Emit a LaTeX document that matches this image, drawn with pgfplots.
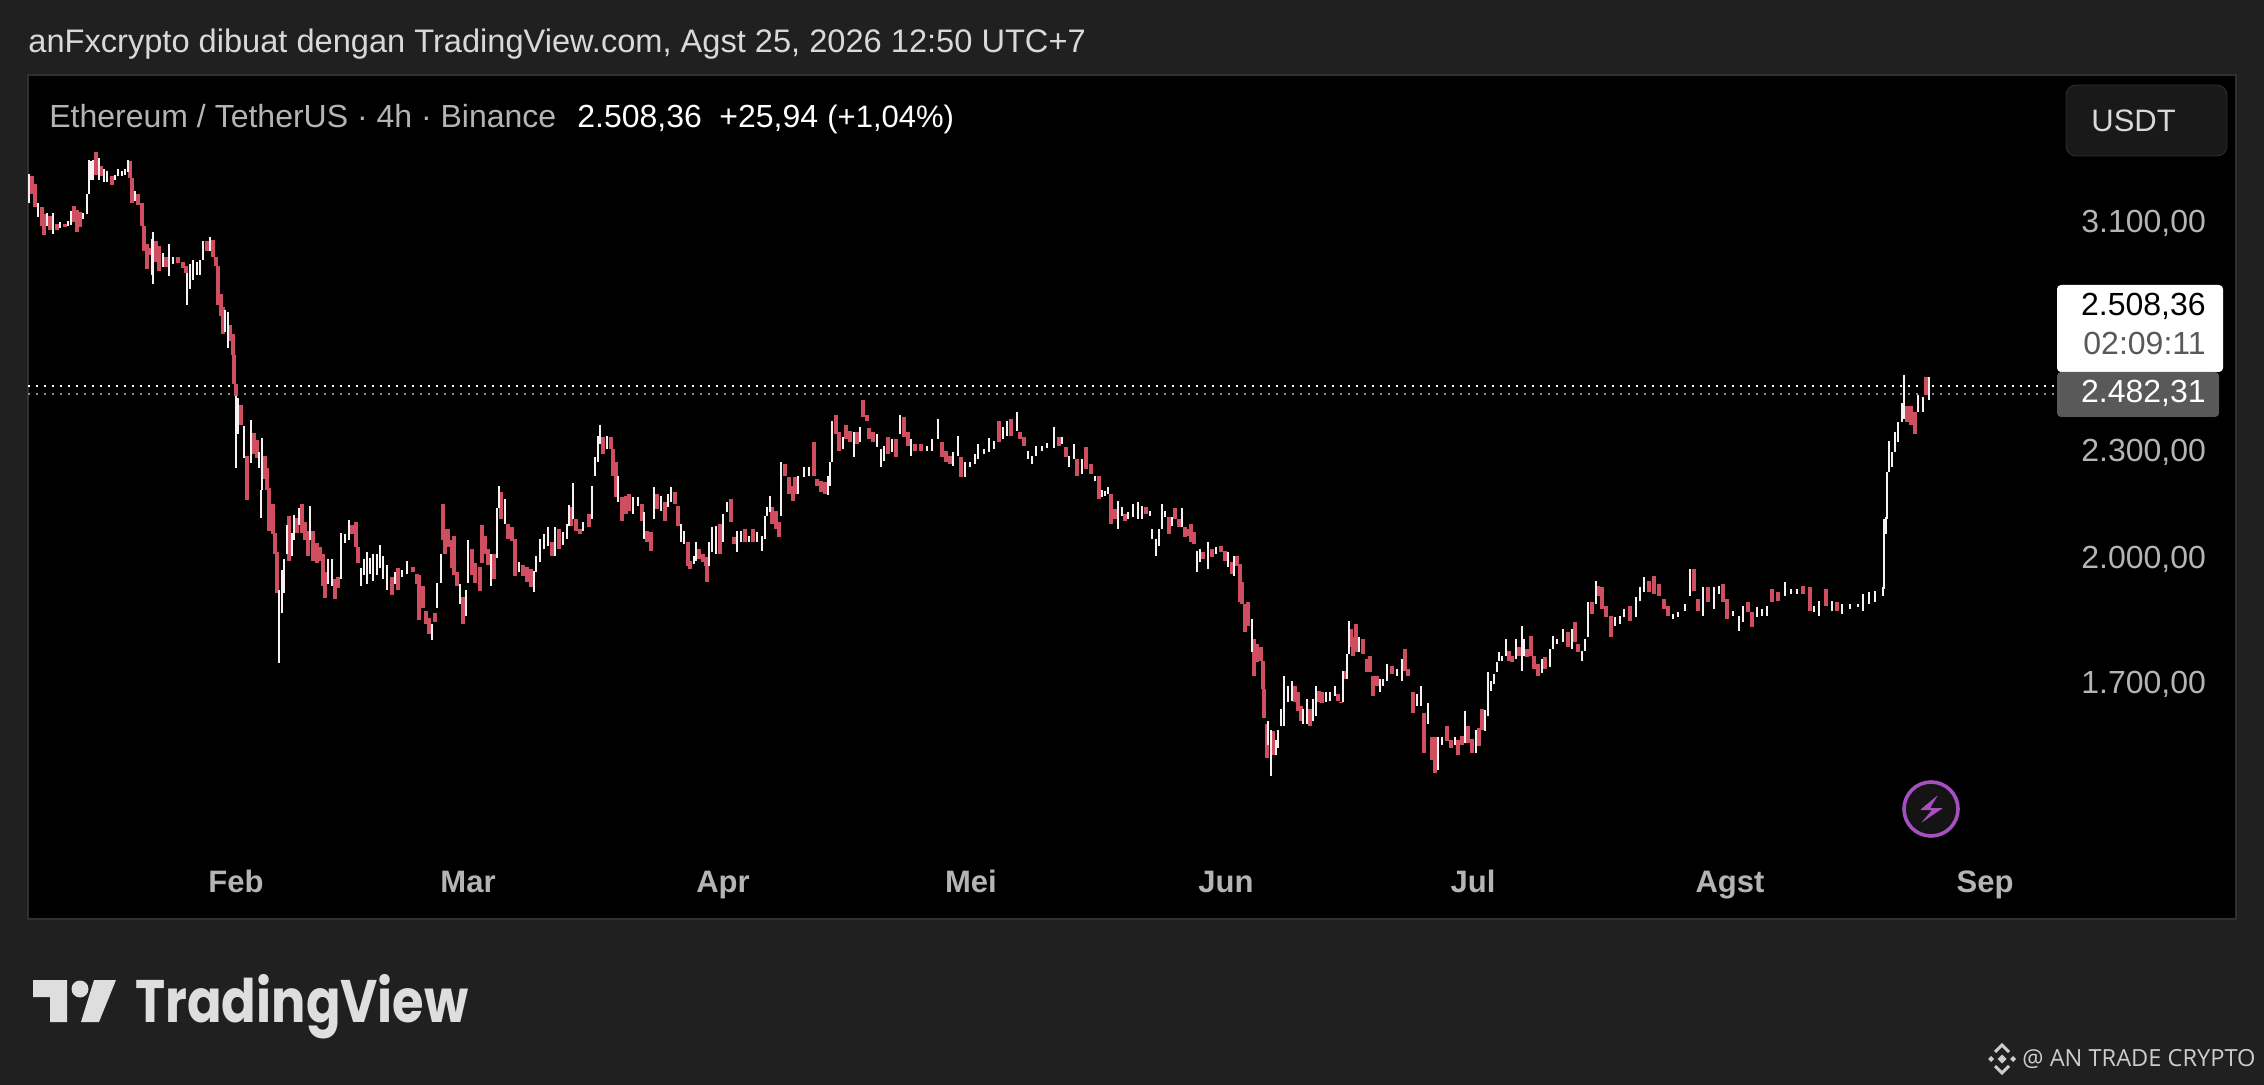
\documentclass[border=0pt]{standalone}
\usepackage{pgfplots}
\usepackage{pgfplotstable}
\usepackage{fontspec}
\pgfplotsset{compat=1.18}
\setmainfont{Liberation Sans}
\newfontfamily\logofont{Poppins}
\newfontfamily\markfont{Open Sans}
\definecolor{bg}{HTML}{202020}
\definecolor{edge}{HTML}{303030}
\definecolor{lab}{HTML}{B4B4B4}
\definecolor{cdlW}{HTML}{F6F0F1}
\definecolor{cdlR}{HTML}{CF4F60}
\definecolor{purp}{HTML}{A54FC0}
\pgfplotstableread{
x lo hi
29 3175 3298
38 3117 3175
47 3081 3134
53 3049 3134
60 3073 3097
68 3081 3101
71 3085 3142
83 3109 3134
87 3130 3212
89 3212 3358
91 3272 3354
93 3272 3358
99 3272 3367
104 3264 3319
107 3264 3311
115 3272 3294
118 3289 3319
122 3289 3311
125 3294 3319
128 3306 3358
135 3184 3225
152 2892 3030
153 2858 3057
163 2921 2975
169 2888 3010
173 2933 2960
187 2781 2899
190 2840 2933
193 2873 2948
197 2892 2940
200 2892 2948
203 2948 3022
210 2983 3038
225 2685 2763
228 2630 2756
236 2248 2471
238 2349 2464
244 2277 2376
251 2262 2392
259 2248 2295
262 2184 2337
261 2107 2184
279 1745 1918
282 1862 1969
284 1911 1997
287 2010 2088
292 2005 2066
294 2047 2115
299 2088 2134
310 2047 2139
328 1933 1997
332 1928 1997
341 1946 2066
345 2040 2063
349 2047 2101
361 1928 1974
364 1956 1997
367 1933 2015
370 1959 2000
373 1941 2010
377 1956 2010
380 1974 2034
383 1946 2005
387 1918 1982
395 1933 1964
402 1951 1969
407 1959 1992
432 1798 1836
437 1874 1936
441 1936 2010
460 1884 1933
466 1855 1918
468 1936 2047
491 1928 2010
497 2000 2134
499 2134 2195
505 2090 2159
519 1964 1989
534 1913 1966
536 1964 2005
540 1989 2050
544 2024 2063
548 2032 2082
555 2005 2082
563 2034 2069
567 2050 2090
569 2085 2142
573 2104 2204
583 2072 2096
592 2104 2195
595 2225 2280
598 2265 2343
600 2319 2379
607 2304 2343
618 2151 2225
633 2118 2165
638 2139 2165
644 2050 2123
654 2104 2193
661 2126 2167
668 2137 2173
671 2151 2193
681 2042 2090
684 2037 2072
694 1984 2005
696 1992 2042
709 1979 2042
712 2016 2082
716 2010 2085
723 2042 2118
727 2123 2151
737 2016 2072
741 2042 2072
749 2042 2058
757 2042 2069
762 2018 2058
765 2050 2112
767 2112 2137
770 2123 2167
781 2112 2265
798 2173 2225
804 2222 2251
809 2225 2251
828 2170 2225
830 2196 2265
832 2265 2389
843 2304 2340
854 2280 2355
860 2325 2373
877 2310 2349
881 2251 2304
884 2268 2313
892 2295 2334
900 2349 2410
911 2283 2334
927 2298 2313
932 2298 2334
938 2334 2398
953 2254 2295
958 2283 2343
965 2222 2265
970 2251 2265
975 2260 2289
978 2274 2319
984 2289 2304
989 2295 2337
994 2304 2328
1003 2334 2373
1007 2343 2389
1017 2358 2417
1028 2274 2298
1032 2260 2283
1036 2283 2313
1042 2298 2313
1047 2307 2322
1054 2307 2373
1062 2319 2340
1069 2251 2283
1074 2274 2319
1082 2231 2274
1095 2210 2225
1102 2165 2184
1105 2167 2181
1108 2173 2193
1118 2077 2153
1122 2112 2137
1128 2104 2123
1133 2110 2145
1138 2104 2151
1142 2104 2139
1150 2112 2126
1152 2050 2077
1156 2005 2050
1159 2032 2077
1162 2077 2145
1165 2110 2126
1172 2085 2110
1182 2082 2134
1197 1964 2018
1200 1989 2024
1208 1971 2042
1216 2010 2029
1228 1977 2016
1234 1954 2005
1252 1770 1848
1268 1567 1617
1271 1505 1598
1276 1547 1577
1278 1561 1598
1281 1606 1644
1284 1606 1716
1288 1659 1694
1292 1661 1705
1303 1612 1644
1307 1612 1665
1313 1617 1665
1316 1629 1692
1326 1659 1680
1330 1661 1680
1335 1672 1692
1343 1659 1727
1347 1709 1765
1349 1765 1843
1359 1770 1805
1380 1680 1709
1383 1694 1709
1387 1705 1743
1397 1716 1732
1402 1703 1754
1417 1650 1676
1421 1650 1692
1428 1612 1655
1438 1517 1585
1442 1567 1585
1455 1567 1585
1465 1571 1638
1476 1551 1598
1485 1596 1640
1488 1629 1725
1491 1683 1703
1494 1698 1720
1497 1725 1747
1499 1749 1770
1502 1749 1760
1506 1760 1800
1516 1754 1800
1522 1727 1831
1524 1760 1800
1542 1721 1754
1550 1736 1777
1553 1777 1807
1557 1788 1800
1563 1793 1824
1572 1777 1824
1582 1749 1772
1585 1772 1800
1588 1805 1889
1596 1884 1941
1615 1831 1853
1620 1836 1855
1624 1853 1872
1636 1853 1901
1640 1891 1926
1644 1913 1951
1673 1848 1860
1678 1853 1865
1685 1867 1884
1690 1903 1971
1703 1855 1926
1714 1872 1926
1719 1908 1928
1733 1855 1867
1739 1819 1855
1743 1841 1879
1757 1853 1877
1762 1855 1872
1767 1855 1879
1785 1903 1939
1791 1908 1921
1797 1908 1921
1814 1865 1879
1819 1855 1891
1832 1867 1891
1842 1860 1884
1850 1872 1884
1858 1877 1884
1863 1867 1908
1869 1884 1913
1875 1889 1916
1883 1903 1926
1884 1921 2104
1886 2063 2110
1887 2104 2236
1889 2236 2328
1892 2251 2295
1895 2295 2355
1898 2325 2386
1902 2386 2448
1904 2395 2539
1918 2420 2474
1923 2420 2467
1929 2458 2530
}\whitecandles
\pgfplotstableread{
x lo hi
32 3212 3289
35 3159 3255
42 3081 3159
44 3045 3130
50 3065 3121
57 3065 3089
65 3077 3089
74 3097 3163
77 3057 3146
80 3077 3138
96 3294 3393
101 3289 3332
112 3251 3289
130 3281 3354
132 3175 3281
138 3167 3212
142 3081 3175
144 2983 3081
147 2914 3010
149 2968 2995
156 2940 3022
159 2906 3002
166 2921 2960
178 2937 2960
183 2918 2940
186 2899 2925
207 2983 3022
213 2960 3026
216 2925 2960
218 2781 2925
221 2741 2821
223 2678 2774
230 2654 2709
233 2606 2678
234 2507 2606
236 2471 2507
241 2377 2442
247 2156 2283
254 2289 2352
257 2277 2331
265 2216 2283
267 2184 2248
269 2072 2190
273 2063 2145
275 2010 2066
277 1911 2015
289 1992 2112
297 2066 2107
302 2066 2145
305 2047 2096
308 2005 2072
313 1992 2072
317 1987 2040
320 1992 2029
323 1928 2010
325 1898 1964
335 1896 1946
338 1923 1951
352 2063 2088
356 2029 2096
358 1987 2029
392 1906 1951
398 1918 1974
413 1964 1977
417 1933 1959
419 1846 1956
423 1874 1928
426 1836 1867
429 1812 1850
435 1841 1862
443 2047 2145
445 2010 2077
448 2029 2077
452 1974 2047
454 1956 2058
457 1928 1964
463 1834 1901
472 1956 2024
475 1936 1987
480 1916 1977
482 1987 2088
485 2010 2058
488 1982 2024
494 1946 2010
501 2104 2178
508 2050 2090
512 2045 2082
515 1954 2050
523 1954 1982
527 1939 1977
531 1926 1971
552 2005 2042
559 2024 2077
571 2085 2137
576 2072 2104
580 2063 2077
589 2082 2118
603 2289 2340
611 2304 2340
613 2225 2304
616 2165 2265
622 2099 2165
626 2118 2167
629 2126 2173
642 2099 2145
647 2042 2072
651 2018 2069
657 2131 2173
665 2099 2151
675 2145 2178
678 2085 2139
688 1979 2042
690 1971 1992
699 1997 2024
703 1989 2010
706 1979 2003
707 1939 1984
720 2010 2090
731 2096 2159
734 2037 2055
745 2042 2077
753 2042 2077
772 2090 2137
776 2077 2126
779 2055 2096
785 2225 2260
789 2173 2222
793 2153 2196
795 2173 2222
814 2225 2325
817 2196 2216
821 2178 2210
825 2173 2207
836 2349 2410
839 2298 2355
846 2334 2379
850 2325 2358
857 2319 2355
863 2404 2458
867 2389 2410
869 2334 2370
873 2325 2355
888 2289 2340
896 2280 2334
904 2340 2404
908 2313 2355
915 2298 2319
921 2298 2319
942 2280 2325
946 2265 2298
950 2260 2283
961 2222 2280
999 2325 2389
1011 2343 2395
1020 2334 2355
1024 2313 2340
1059 2313 2340
1066 2280 2310
1077 2225 2274
1086 2245 2310
1091 2231 2260
1099 2159 2225
1111 2090 2173
1115 2104 2131
1125 2099 2118
1146 2118 2137
1169 2063 2110
1175 2104 2134
1179 2082 2104
1185 2055 2082
1188 2058 2077
1191 2042 2090
1194 2037 2069
1203 1997 2016
1212 2003 2024
1221 2016 2032
1225 1992 2018
1232 1959 1989
1237 1979 2005
1240 1889 1984
1242 1884 1939
1245 1817 1884
1248 1831 1889
1254 1716 1800
1257 1747 1788
1261 1749 1781
1263 1687 1749
1264 1623 1687
1267 1541 1612
1273 1547 1596
1295 1659 1694
1298 1638 1680
1301 1617 1650
1310 1606 1644
1319 1659 1683
1322 1655 1680
1338 1661 1676
1341 1655 1659
1345 1709 1727
1351 1781 1824
1353 1760 1805
1356 1770 1836
1363 1765 1800
1367 1725 1754
1370 1725 1760
1373 1672 1716
1377 1692 1716
1392 1720 1738
1405 1727 1777
1408 1716 1732
1413 1634 1680
1424 1551 1634
1432 1537 1585
1435 1511 1585
1447 1575 1606
1451 1561 1577
1458 1547 1577
1462 1567 1587
1468 1571 1608
1472 1551 1581
1479 1565 1602
1482 1598 1644
1509 1749 1772
1512 1747 1760
1519 1760 1781
1527 1758 1777
1531 1760 1807
1534 1732 1760
1538 1714 1743
1545 1732 1758
1568 1781 1817
1575 1793 1841
1578 1770 1788
1592 1860 1889
1598 1903 1928
1602 1872 1926
1606 1853 1879
1611 1805 1855
1630 1843 1879
1649 1913 1941
1654 1908 1954
1659 1903 1933
1664 1872 1896
1668 1855 1879
1694 1916 1971
1698 1867 1896
1708 1889 1926
1723 1889 1933
1727 1848 1896
1748 1865 1889
1752 1829 1865
1772 1889 1921
1778 1891 1913
1803 1908 1928
1810 1867 1926
1826 1879 1921
1837 1867 1889
1907 2386 2436
1911 2379 2436
1915 2349 2420
1926 2474 2530
}\redcandles
\newcommand{\T}[6]{\node[anchor=#1,inner sep=0pt,text=#5,font=\fontsize{#4}{#4}\selectfont] at (#2,#3) {#6};}
\begin{document}
\begin{tikzpicture}
\begin{scope}[x=0.5pt,y=-0.5pt]
\path[use as bounding box,fill=bg] (0,0) rectangle (2264,1085);
\fill[black] (28,75) rectangle (2236,919);
\draw[edge,line width=1pt] (28,75) rectangle (2236,919);
\end{scope}
\begin{axis}[
  at={(14pt,-459.5pt)},anchor=south west,
  scale only axis,width=1104pt,height=422pt,
  xmin=28,xmax=2236,ymin=1250,ymax=3751,
  ymode=log,
  axis line style={draw=none},
  major tick length=0pt,minor tick length=0pt,
  xtick={236,468,723,971,1226,1473,1730,1985},
  xticklabels={Feb,Mar,Apr,Mei,Jun,Jul,Agst,Sep},
  ytick={1700,2000,2300,3100},
  yticklabels={{1.700,00},{2.000,00},{2.300,00},{3.100,00}},
  minor ytick={},
  ytick pos=right,yticklabel pos=right,
  xticklabel style={anchor=base,yshift=13pt,text=lab,font=\bfseries\fontsize{15.5}{16}\selectfont},
  yticklabel style={anchor=east,xshift=-11.5pt,yshift=-0.8pt,text=lab,font=\fontsize{16}{16}\selectfont},
  clip=true,
]
\addplot[white,line width=1.2pt,dash pattern=on 1.2pt off 2.8pt,yshift=-1pt,forget plot] coordinates {(28,2508.36) (2055,2508.36)};
\addplot[white!55!black,line width=1pt,dash pattern=on 1pt off 3pt,yshift=-1pt,forget plot] coordinates {(28,2482.31) (2055,2482.31)};
\addplot[draw=none,mark=none,forget plot,error bars/.cd,y dir=minus,y explicit,error mark=none,
  error bar style={cdlR,line width=1.6pt}]
  table[x=x,y=hi,y error expr=\thisrow{hi}-\thisrow{lo}] {\redcandles};
\addplot[draw=none,mark=none,forget plot,error bars/.cd,y dir=minus,y explicit,error mark=none,
  error bar style={cdlW,line width=1.3pt}]
  table[x=x,y=hi,y error expr=\thisrow{hi}-\thisrow{lo}] {\whitecandles};
\end{axis}
\begin{scope}[x=0.5pt,y=-0.5pt]
\T{base west}{28}{53}{16.3}{white!85!black}{anFxcrypto dibuat dengan TradingView.com, Agst 25, 2026 12:50 UTC+7}
\T{base west}{49}{128}{16}{lab}{Ethereum / TetherUS · 4h · Binance}
\T{base west}{577}{128}{16}{white}{2.508,36}
\T{base west}{719}{128}{16}{white}{+25,94}
\T{base west}{827}{128}{15.5}{white}{(+1,04\%)}
\fill[black!90!white,draw=edge,rounded corners=5pt] (2066,85) rectangle (2227,156);
\T{base west}{2091}{132}{15.5}{white!85!black}{USDT}
\fill[white,rounded corners=2pt] (2057,285) -- (2223,285) -- (2223,372) -- (2057,372) -- cycle;
\fill[black!65!white,rounded corners=2pt] (2057,372) -- (2219,372) -- (2219,417) -- (2057,417) -- cycle;
\T{base east}{2206}{316}{16}{black}{2.508,36}
\T{base east}{2206}{355}{16}{black!65!white}{02:09:11}
\T{base east}{2206}{402}{16}{white}{2.482,31}
% icon
\draw[purp,fill=black!92!white,line width=1.8pt] (1931,809) circle (27);
\fill[purp,rounded corners=0.5pt] (1938,795) -- (1920,810) -- (1932,810) -- (1921,823) -- (1943,808) -- (1930,808) -- cycle;
% logo
\fill[white!87!black] (33,980) -- (67,980) -- (67,1022) -- (50,1022) -- (50,997) -- (33,997) -- cycle;
\fill[white!87!black] (80,989) circle (8.5);
\fill[white!87!black] (94,980) -- (116,980) -- (99,1022) -- (81,1022) -- cycle;
\T{base west}{135}{1022}{30}{white!87!black}{\scalebox{0.85}[1]{\logofont\bfseries TradingView}}
% watermark
\fill[white!80!black] (2002,1054.5) -- (2006.5,1059) -- (2002,1063.5) -- (1997.5,1059) -- cycle;
\fill[white!80!black] (1991,1056) -- (1994,1059) -- (1991,1062) -- (1988,1059) -- cycle;
\fill[white!80!black] (2013,1056) -- (2016,1059) -- (2013,1062) -- (2010,1059) -- cycle;
\draw[white!80!black,line width=1.5pt] (1995,1052) -- (2002,1045) -- (2009,1052);
\draw[white!80!black,line width=1.5pt] (1995,1066) -- (2002,1073) -- (2009,1066);
\T{base west}{2022}{1066}{11.8}{white!80!black}{\markfont @ AN TRADE CRYPTO}
\end{scope}
\end{tikzpicture}
\end{document}
